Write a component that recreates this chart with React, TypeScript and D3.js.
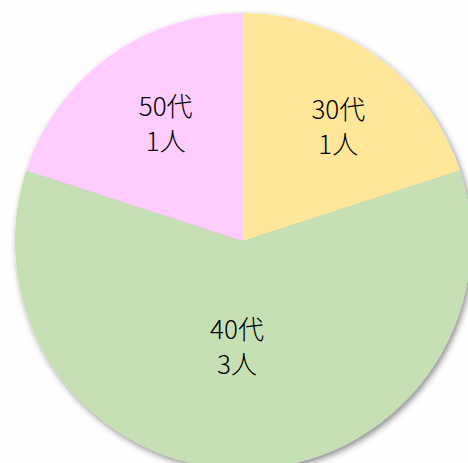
import React, { useRef, useEffect } from 'react';
import * as d3 from 'd3';

// data
const ageGroups = ['30代', '40代', '50代'];
const headcounts = [1, 3, 1];
const sliceColors = ['#FFE699', '#C5E0B4', '#FFCCFF'];

const W = 468;
const H = 463;

export default function App() {
  const svgRef = useRef<SVGSVGElement>(null);

  useEffect(() => {
    const svg = d3.select(svgRef.current);
    svg.selectAll('*').remove();

    const cx = 243;
    const cy = 241;
    const r = 228;

    // soft shadow like the office chart
    const defs = svg.append('defs');
    const f = defs.append('filter').attr('id', 'shadow')
      .attr('x', '-10%').attr('y', '-10%').attr('width', '120%').attr('height', '120%');
    f.append('feDropShadow')
      .attr('dx', 2).attr('dy', 3).attr('stdDeviation', 3)
      .attr('flood-color', '#000').attr('flood-opacity', 0.45);

    const pie = d3.pie<number>().sort(null).value(d => d);
    const arcs = pie(headcounts);
    const arc = d3.arc<d3.PieArcDatum<number>>().innerRadius(0).outerRadius(r);

    const g = svg.append('g').attr('transform', `translate(${cx},${cy})`);

    g.append('g').attr('filter', 'url(#shadow)')
      .selectAll('path')
      .data(arcs)
      .enter()
      .append('path')
      .attr('d', arc)
      .attr('fill', (_, i) => sliceColors[i]);

    // excel "best fit" puts labels at different depths, plus small nudges
    const labelDepth = [140, 107, 140];
    const nudge = [[13, 0], [-6, 0], [5, -3]];
    const lbl = g.selectAll('g.lbl')
      .data(arcs)
      .enter()
      .append('g')
      .attr('class', 'lbl')
      .attr('transform', (d, i) => {
        const la = d3.arc<d3.PieArcDatum<number>>()
          .innerRadius(labelDepth[i]).outerRadius(labelDepth[i]);
        const [x, y] = la.centroid(d);
        return `translate(${x + nudge[i][0]},${y + nudge[i][1]})`;
      })
      .attr('text-anchor', 'middle')
      .style('font-family', '"Noto Sans CJK JP", "Noto Sans", sans-serif')
      .style('font-size', '26px')
      .style('font-weight', 300)
      .attr('fill', '#000');

    lbl.append('text').attr('y', -9)
      .text((_, i) => ageGroups[i]);
    lbl.append('text').attr('y', 26)
      .text((_, i) => `${headcounts[i]}人`);
  }, []);

  return (
    <svg
      ref={svgRef}
      width={W}
      height={H}
      style={{ position: 'absolute', left: 0, top: 0, background: '#fefefe' }}
    />
  );
}
